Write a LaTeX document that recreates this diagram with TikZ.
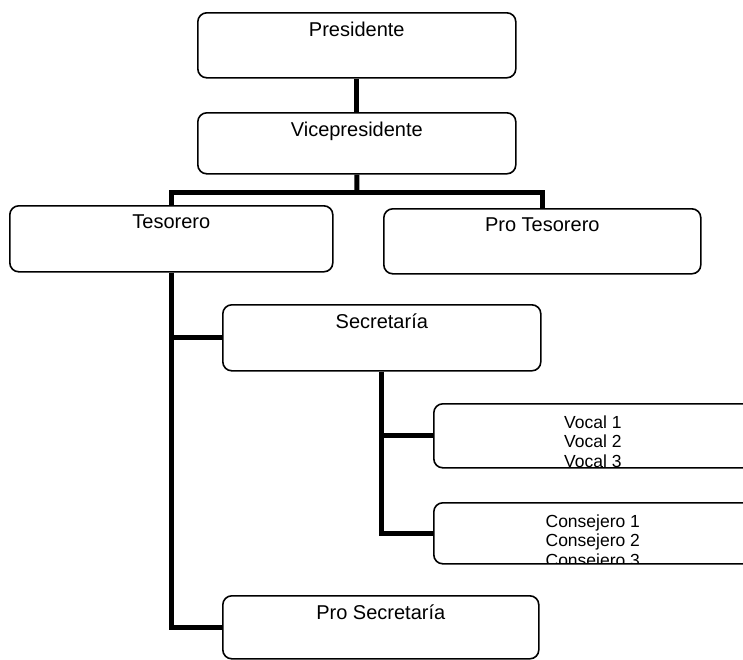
\documentclass[tikz,border=0pt]{standalone}
\usepackage{fontspec}
\setmainfont{Liberation Sans}
\usetikzlibrary{positioning}
\tikzset{
    boxframe/.style={draw, line width=1.6pt, rounded corners=9pt, inner sep=0pt,
        anchor=north west, minimum width=318pt, minimum height=65pt},
    orgtext/.style={font=\fontsize{20}{24}\selectfont, align=center, inner sep=0pt, minimum size=0pt},
    listtext/.style={font=\fontsize{17.5}{19.5}\selectfont, align=center, inner sep=0pt, minimum size=0pt},
    orgbox/.style={boxframe, path picture={\node[orgtext, anchor=north] at ([yshift=-8pt]path picture bounding box.north) {#1};}},
    listbox/.style={boxframe, path picture={\node[listtext, anchor=north] at ([yshift=-11pt]path picture bounding box.north) {#1};}},
    link/.style={line width=5pt}
}

\begin{document}
\begin{tikzpicture}[x=1pt, y=-1pt]
    \useasboundingbox (0,0) rectangle (743,659);

    % Boxes
    \node[orgbox=Presidente] (pres) at (197,12) {};
    \node[orgbox=Vicepresidente, minimum height=61pt] (vice) at (197,112) {};
    \node[orgbox=Tesorero, minimum width=323pt, minimum height=66pt] (tes) at (9,205) {};
    \node[orgbox=Pro Tesorero, minimum width=317pt] (protes) at (383,208) {};
    \node[orgbox=Secretaría, minimum height=66pt] (sec) at (222,304) {};
    \node[listbox={Vocal 1\\Vocal 2\\Vocal 3}, minimum height=64pt] (vocal) at (433,403) {};
    \node[listbox={Consejero 1\\Consejero 2\\Consejero 3}, minimum height=61pt] (cons) at (433,502) {};
    \node[orgbox=Pro Secretaría, minimum width=316pt, minimum height=63pt] (prosec) at (222,595) {};

    % Connectors
    \coordinate (split) at (357,192);
    \draw[link] (pres.south) -- (vice.north);
    \draw[link] (vice.south) -- (split);
    \draw[link] (tes.north) |- (split) -| (protes.north);
    \draw[link] (tes.south) |- (sec.west);
    \draw[link] (tes.south) |- (prosec.west);
    \draw[link] (sec.south) |- (vocal.west);
    \draw[link] (sec.south) |- (cons.west);
\end{tikzpicture}
\end{document}
